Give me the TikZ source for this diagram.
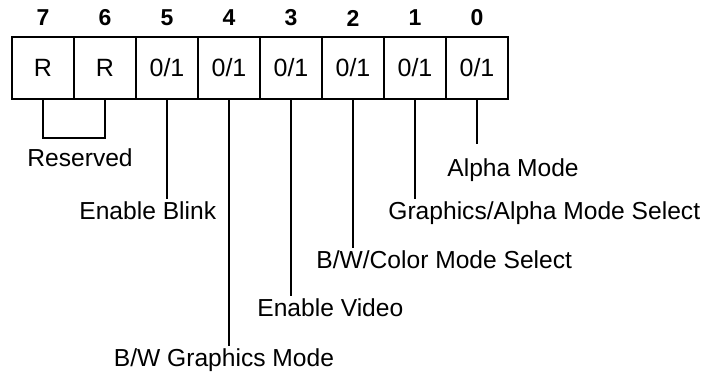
\documentclass[tikz,border=0pt]{standalone}
\usepackage{fontspec}
\setmainfont{Liberation Sans}
\tikzstyle{bitcell} = [
    rectangle,
    minimum width=31pt,
    minimum height=31pt,
    inner sep=0pt,
    line width=1pt,
    draw=black,
    font=\fontsize{12.5}{14}\selectfont
]
\tikzstyle{bitnum} = [
    font=\fontsize{11.5}{13}\selectfont\bfseries
]
\tikzstyle{fieldlabel} = [
    anchor=west,
    inner sep=2pt,
    text height=1.5ex,
    text depth=.25ex,
    font=\fontsize{12.3}{14}\selectfont
]
\tikzstyle{tap} = [line width=.7pt]

\begin{document}
\begin{tikzpicture}[x=0.5pt, y=-0.5pt, node distance=31pt]
\useasboundingbox (0,0) rectangle (708,379);

\node (b7) [bitcell] at (43,68) {R};
\node (b6) [bitcell, right of=b7] {R};
\node (b5) [bitcell, right of=b6] {0/1};
\node (b4) [bitcell, right of=b5] {0/1};
\node (b3) [bitcell, right of=b4] {0/1};
\node (b2) [bitcell, right of=b3] {0/1};
\node (b1) [bitcell, right of=b2] {0/1};
\node (b0) [bitcell, right of=b1] {0/1};

\foreach \i in {0,...,7}
    \node (n\i) [bitnum, above of=b\i, yshift=-6pt] {\i};

\node (reserved) [fieldlabel] at (23,160) {Reserved};
\node (blink) [fieldlabel] at (75,213) {Enable Blink};
\node (bwgfx) [fieldlabel, anchor=center] at (224,360) {B/W Graphics Mode};
\node (video) [fieldlabel] at (253,310) {Enable Video};
\node (color) [fieldlabel] at (312,262) {B/W/Color Mode Select};
\node (gamode) [fieldlabel] at (384,213) {Graphics/Alpha Mode Select};
\node (alpha) [fieldlabel] at (443,170) {Alpha Mode};

\draw [tap] (b7.south) -- ++(0,38) -| (b6.south);

\draw [tap] (b5.south) -- (b5.south |- blink.north);
\draw [tap] (b4.south) -- (b4.south |- bwgfx.north);
\draw [tap] (b3.south) -- (b3.south |- video.north);
\draw [tap] (b2.south) -- (b2.south |- color.north);
\draw [tap] (b1.south) -- (b1.south |- gamode.north);
\draw [tap, shorten >=6pt] (b0.south) -- (b0.south |- alpha.north);

\end{tikzpicture}
\end{document}
